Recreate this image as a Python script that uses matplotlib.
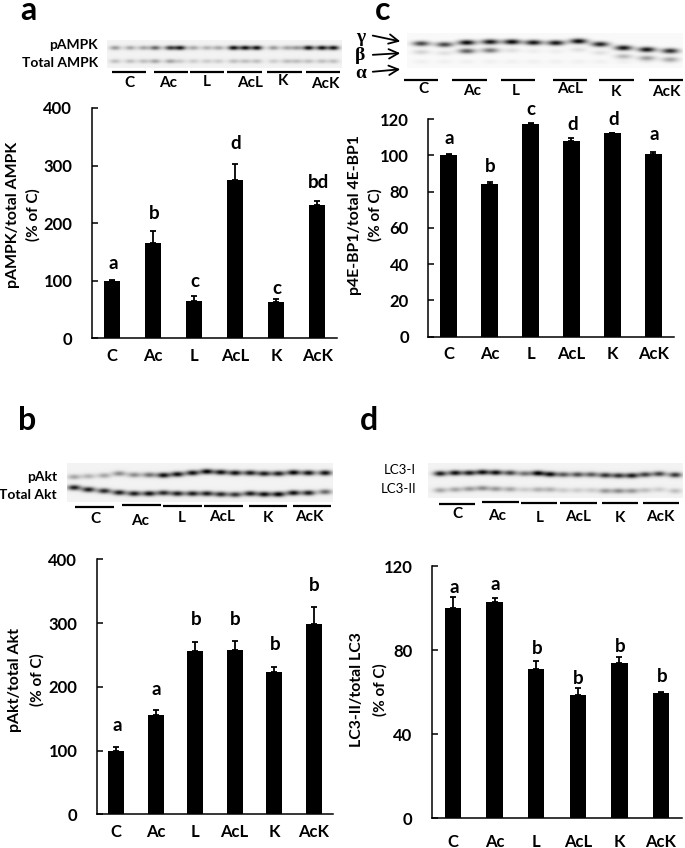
import numpy as np
import matplotlib
matplotlib.use("Agg")
from matplotlib import pyplot as plt

plt.rcParams['font.family'] = ['Lato', 'DejaVu Sans']
plt.rcParams['font.weight'] = 'bold'

W, H = 685, 848
categories = ["C", "Ac", "L", "AcL", "K", "AcK"]

# bar values, upper error, letter height (data units)
a_vals = [99, 165, 65, 275, 63, 232]
a_errs = [3, 21, 8, 28, 5, 6]
a_letters = ["a", "b", "c", "d", "c", "bd"]
a_letter_y = [130, 217, 98, 339, 87, 270]

c_vals = [100, 84, 117, 108, 112.3, 100.7]
c_errs = [0.5, 1.5, 0.6, 1.5, 0.2, 1]
c_letters = ["a", "b", "c", "d", "d", "a"]
c_letter_y = [109.4, 94, 125, 116.7, 119.5, 111.6]

b_vals = [99, 155, 256, 257, 224, 298]
b_errs = [7, 8, 14, 15, 7, 27]
b_letters = ["a", "a", "b", "b", "b", "b"]
b_letter_y = [139, 196, 305, 305, 267, 359]

d_vals = [100, 103, 71, 58.5, 74, 59.5]
d_errs = [5.5, 2, 4, 3.5, 3, 0.8]
d_letters = ["a", "a", "b", "b", "b", "b"]
d_letter_y = [110, 111.4, 81, 66.7, 81.7, 67.5]

# blot band darkness, one number per lane
a_pampk = [.35, .3, .3, .55, .7, .85, .3, .25, .3, .9, .9, .9, .35, .3, .35, .9, .9, .9]
a_total = [.2, .2, .2, .3, .3, .15, .15, .15, .15, .2, .2, .2, .15, .2, .2, .2, .2, .2]
c_gamma = [.7, .7, .95, .9, .95, .9, .9, .95, .85, .9, .9, .8]
c_beta = [.15, .1, .6, .5, .1, .05, .05, .1, .1, .25, .35, .3]
b_pakt = [.3, .25, .3, .4, .4, .5, .9, .9, .9, .95, .9, .9, .85, .85, .85, .95, .9, .9]
b_total = [.85, .85, .8, .85, .85, .9, .8, .85, .85, .85, .8, .75, .85, .9, .95, .9, .85, .55]
d_lc3i = [.85, .9, .85, .9, .9, .7, .5, .95, .9, .6, .65, .6, .75, .75, .85, .7, .7, .75]
d_lc3ii = [.3, .3, .35, .4, .35, .3, .15, .25, .25, .15, .15, .15, .35, .4, .35, .2, .15, .2]

fig = plt.figure(figsize=(W / 100, H / 100), dpi=100)

# whole-figure layer in image pixels, for blots and their labels
bg = fig.add_axes([0, 0, 1, 1])


def blot(x0, x1, y0, y1, bands, base=0.05, sx=7.0, sy=2.2):
    xx, yy = np.meshgrid(np.arange(x0, x1, 0.5), np.arange(y0, y1, 0.5))
    img = np.full(xx.shape, base)
    for xs, ys, ds in bands:
        for x, y, d in zip(xs, ys, ds):
            img += d * np.exp(-((xx - x) / sx) ** 2 - ((yy - y) / sy) ** 2)
    bg.imshow(1 - np.clip(img, 0, 1), cmap="gray", vmin=0, vmax=1, aspect="auto",
              extent=(x0, x1, y1, y0), interpolation="bilinear")


def group_lines(xs, ys):
    for (x0, x1), y in zip(xs, ys):
        bg.plot([x0, x1], [y, y], color="k", lw=1.6, solid_capstyle="butt")


def group_labels(xs, ys):
    for name, x, y in zip(categories, xs, ys):
        bg.text(x, y, name, ha="center", va="center", fontsize=11)


# panel a blot
lanes = np.array([345, 390, 430, 465, 510, 540, 580, 620, 655, 700, 735, 770, 820, 860, 890, 925, 965, 1000]) / 3
blot(107, 342, 40, 68, [(lanes, [47.6] * 18, a_pampk), (lanes, [61] * 18, a_total)], sx=5.5)
group_lines([(112, 146), (154, 188), (190, 224), (227, 262), (267, 302), (306, 340)], [71.7] * 6)
group_labels([129, 168, 207, 250, 283, 325], [83, 83, 82, 83, 81, 84])
bg.text(98, 45, "pAMPK", ha="right", va="center", fontsize=10)
bg.text(98, 63, "Total AMPK", ha="right", va="center", fontsize=10)

# panel c blot
lanes = 345 + np.array([228, 298, 365, 435, 500, 565, 632, 700, 765, 835, 905, 975]) / 3
gamma_y = np.array([130, 133, 127, 125, 125, 127, 128, 123, 132, 143, 148, 152]) / 3
blot(407, 683, 33, 68, [(lanes, gamma_y, c_gamma), (lanes, gamma_y + 8.5, c_beta),
                        (lanes, [61.5] * 12, [.04] * 12)], base=0.02, sx=8.5, sy=2.6)
group_lines([(404, 438), (452, 487), (501, 535), (553, 587), (599, 634), (649, 683)], [80] * 6)
group_labels([423, 472, 516, 570, 616, 666], [89, 91, 91, 89, 92, 92])
for label, x, y, y0, y1 in [("γ", 361, 38, 35, 42), ("β", 360, 55, 55, 53), ("α", 361, 73, 72, 69)]:
    bg.text(x, y, label, ha="center", va="center", fontsize=14, family="Liberation Serif")
    bg.annotate("", xy=(403, y1), xytext=(370, y0),
                arrowprops=dict(arrowstyle="->", color="k", lw=1.3, mutation_scale=17))

# panel b blot
lanes = np.array([222, 265, 312, 357, 402, 447, 490, 532, 577, 620, 662, 705, 750, 792, 835, 880, 925, 975]) / 3
p_y = 400 + np.array([230, 228, 226, 220, 224, 224, 225, 222, 218, 214, 216, 218, 218, 220, 220, 217, 218, 218]) / 3
t_y = 400 + np.array([262, 268, 272, 277, 280, 280, 278, 280, 280, 280, 282, 283, 280, 282, 282, 278, 278, 275]) / 3
blot(67, 333, 463, 502, [(lanes, p_y, b_pakt), (lanes, t_y, b_total)], sx=6.5, sy=2.6)
group_lines([(75, 114), (122, 161), (163, 202), (204, 243), (249, 287), (293, 331)],
            [506.5, 505, 506, 506, 506, 506])
group_labels([95, 140, 182, 222, 268, 309], [519, 521, 518, 517, 518, 517])
bg.text(57, 477, "pAkt", ha="right", va="center", fontsize=10)
bg.text(57, 495, "Total Akt", ha="right", va="center", fontsize=10)

# panel d blot
lanes = 345 + np.array([285, 330, 372, 412, 452, 495, 538, 578, 615, 655, 697, 738, 780, 820, 860, 900, 942, 990]) / 3
i_y = 440 + np.array([100, 98, 98, 96, 97, 98, 100, 99, 102, 103, 103, 103, 105, 106, 106, 103, 101, 104]) / 3
ii_y = 440 + np.array([150, 148, 146, 144, 146, 147, 148, 148, 148, 150, 150, 150, 152, 152, 152, 150, 148, 152]) / 3
blot(428, 683, 463, 498, [(lanes, i_y, d_lc3i), (lanes, ii_y, d_lc3ii)], sx=6.5, sy=2.6)
group_lines([(439, 475), (482, 519), (521, 557), (560, 597), (602, 638), (643, 679)],
            [503.5, 501.5, 502.5, 502.5, 502.5, 502.5])
group_labels([457, 497, 540, 578, 620, 660], [514, 516, 518, 517, 518, 517])
bg.text(416, 470, "LC3-I", ha="right", va="center", fontsize=9.5, fontweight="normal")
bg.text(416, 489, "LC3-II", ha="right", va="center", fontsize=9.5, fontweight="normal")

# panel letters
for label, x, y in [("a", 28, 10), ("c", 383, 11), ("b", 27, 421), ("d", 369, 421)]:
    bg.text(x, y, label, ha="center", va="center", fontsize=23)

bg.set_xlim(0, W)
bg.set_ylim(H, 0)
bg.axis("off")


def bar_panel(left, right, top, bottom, first, last, ymax, yticks, vals, errs, letters,
              letter_y, width, xpad, name, name_x, sub_x, label_y):
    ax = fig.add_axes([left / W, 1 - bottom / H, (right - left) / W, (bottom - top) / H])
    ax.patch.set_alpha(0)
    step = (last - first) / 5
    x = np.arange(6)
    ax.bar(x, vals, width=width / step, color="k")
    ax.errorbar(x, vals, yerr=[np.zeros(6), errs], fmt="none", ecolor="k", elinewidth=1.3,
                capsize=2.5, capthick=1.3)
    ax.set_xlim((left - first) / step, (right - first) / step)
    ax.set_ylim(0, ymax)
    ax.set_yticks(yticks)
    ax.set_xticks(x)
    ax.set_xticklabels(categories)
    ax.tick_params(axis="y", direction="in", length=4.5, width=1.1, pad=14, labelsize=12)
    ax.tick_params(axis="x", length=0, pad=xpad, labelsize=12)
    for side in ("top", "right"):
        ax.spines[side].set_visible(False)
    for side in ("left", "bottom"):
        ax.spines[side].set_linewidth(1.1)
    for i, (s, y) in enumerate(zip(letters, letter_y)):
        ax.text(i + 0.02, y, s, ha="center", va="center", fontsize=13.5, clip_on=False)
    fig.text(name_x / W, 1 - label_y / H, name, rotation=90, ha="center", va="center", fontsize=11.4)
    fig.text(sub_x / W, 1 - label_y / H, "(% of C)", rotation=90, ha="center", va="center", fontsize=11)


bar_panel(91.7, 337, 108, 338.3, 112.3, 317.3, 400, [0, 100, 200, 300, 400], a_vals, a_errs,
          a_letters, a_letter_y, 16, 7, "pAMPK/total AMPK", 13, 33, 215)
bar_panel(428.3, 674, 119, 336.7, 448.7, 653.3, 120, [0, 20, 40, 60, 80, 100, 120], c_vals, c_errs,
          c_letters, c_letter_y, 16.5, 7, "p4E-BP1/total 4E-BP1", 355, 375, 215)
bar_panel(96.7, 333.3, 559.3, 814.3, 116, 313.7, 400, [0, 100, 200, 300, 400], b_vals, b_errs,
          b_letters, b_letter_y, 16, 7, "pAkt/total Akt", 15, 37, 680)
bar_panel(432, 681.7, 566.3, 818.3, 453, 661, 120, [0, 40, 80, 120], d_vals, d_errs,
          d_letters, d_letter_y, 16.5, 11, "LC3-II/total LC3", 357, 380, 690)

fig.savefig("out.png", dpi=100)
